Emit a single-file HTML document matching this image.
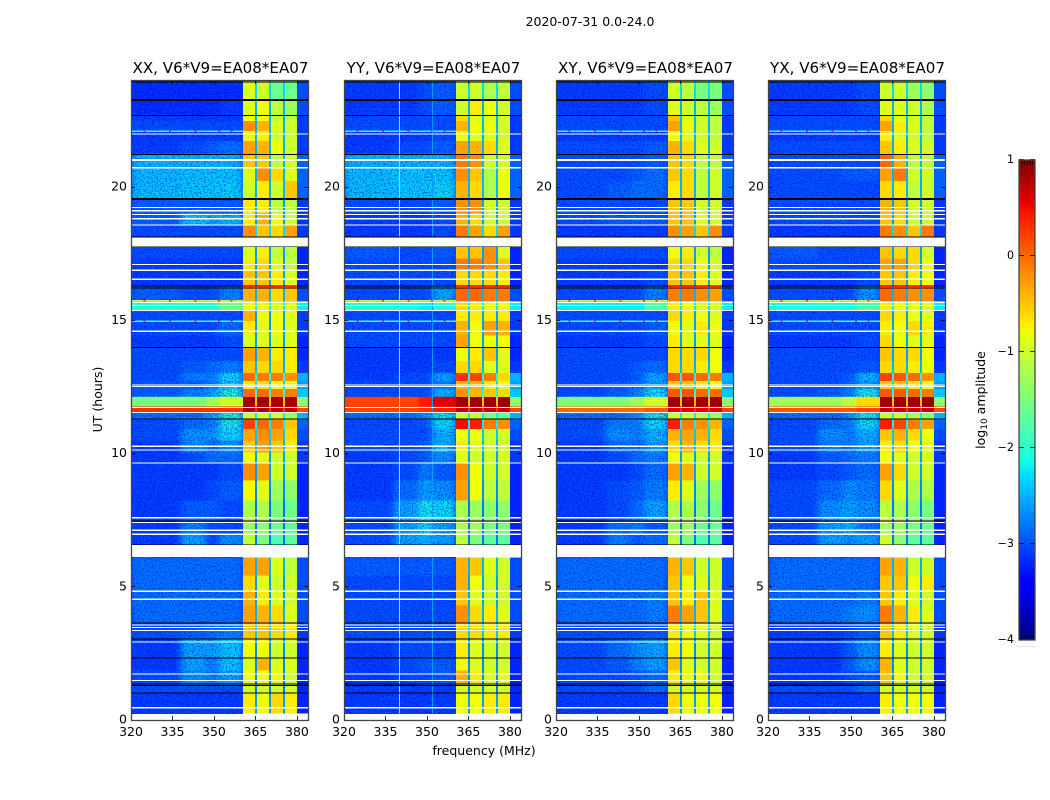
<!DOCTYPE html>
<html>
<head>
<meta charset="utf-8">
<title>2020-07-31 0.0-24.0</title>
<style>
html,body{margin:0;padding:0;background:#fff;}
svg{display:block;font-family:"DejaVu Sans","Liberation Sans",sans-serif;}
</style>
</head>
<body>
<svg id="chart" width="1050" height="800" viewBox="0 0 1050 800" xmlns="http://www.w3.org/2000/svg">
<defs id="defs">
<filter id="speckle-light" x="0" y="0" width="100%" height="100%" color-interpolation-filters="sRGB">
<feTurbulence type="fractalNoise" baseFrequency="0.65" numOctaves="1" seed="4"/>
<feColorMatrix type="matrix" values="0 0 0 0 0  0 0 0 0 0.5  0 0 0 0 1  3.4 0 0 0 -1.5"/>
</filter>
<filter id="speckle-dark" x="0" y="0" width="100%" height="100%" color-interpolation-filters="sRGB">
<feTurbulence type="fractalNoise" baseFrequency="0.65" numOctaves="1" seed="11"/>
<feColorMatrix type="matrix" values="0 0 0 0 0  0 0 0 0 0  0 0 0 0 0.85  3.4 0 0 0 -1.5"/>
</filter>
<filter id="smooth" color-interpolation-filters="sRGB">
<feGaussianBlur stdDeviation="3.5 0.8"/>
</filter>
</defs>
</svg>
<script>
// Axis tick labels
const freqTicks = [320, 335, 350, 365, 380];
const hourTicks = [0, 5, 10, 15, 20];
const colorbarTicks = [1, 0, -1, -2, -3, -4];
const panelTitles = ["XX, V6*V9=EA08*EA07", "YY, V6*V9=EA08*EA07", "XY, V6*V9=EA08*EA07", "YX, V6*V9=EA08*EA07"];

// Frequency edges (MHz) of the value columns: four background zones, then four receiver bands
const leftFreqEdges = [320, 338, 347, 352, 360.5];
const bandFreqEdges = [[360.5, 364.8], [365.5, 369.9], [370.6, 374.9], [375.7, 380]];
const notchFreqEdges = [[364.8, 365.5], [369.9, 370.6], [374.9, 375.7]];
const rightFreqEdges = [380, 384];

// UT hour of the top of each row; the last entry closes the last row
const rowTopHours = [24, 23.25, 22.68, 22.46, 22.08, 21.71, 21.22, 20.70, 20.21, 19.54, 19.01, 18.56, 18.07, 17.77, 17.29, 16.84, 16.27, 15.71, 15.34, 14.96, 14.40, 13.95, 13.46, 13.01, 12.71, 12.41, 12.11, 11.74, 11.51, 11.29, 10.91, 10.46, 10.01, 9.64, 8.96, 8.21, 7.46, 6.97, 6.52, 6.07, 5.40, 4.84, 4.27, 3.64, 3.04, 2.32, 1.84, 1.27, 1.01, 0.22];

// log10 amplitude per row, columns: 4 background zones then 4 bands; null = no data
const ampXX = [
[-3.2,-3.2,-3.2,-3.2,-0.9,-1.0,-1.6,-1.6],
[-3.2,-3.2,-3.2,-3.1,-0.9,-0.8,-1.1,-1.3],
[-3.1,-3.1,-3.1,-3.1,-0.8,-0.8,-1.1,-1.1],
[-3.0,-3.0,-3.0,-3.0,-0.2,-0.4,-0.9,-1.0],
[-3.1,-3.1,-3.1,-3.1,-0.8,-0.7,-1.0,-1.0],
[-3.1,-3.0,-2.9,-2.8,-0.3,-0.4,-0.8,-1.0],
[-2.4,-2.4,-2.4,-2.4,-0.5,-0.5,-1.1,-1.0],
[-2.35,-2.3,-2.3,-2.3,-0.9,-0.2,-0.6,-0.9],
[-2.35,-2.3,-2.3,-2.25,-1.0,-0.7,-1.0,-0.5],
[-2.9,-2.9,-2.9,-2.9,-0.7,-0.7,-1.1,-1.1],
[-2.9,-2.3,-2.5,-2.4,-0.7,-0.4,-0.8,-1.0],
[-3.0,-3.0,-3.0,-3.0,-0.2,-0.5,-0.6,-0.3],
null,
[-3.0,-3.0,-3.0,-3.0,-0.9,-0.7,-1.1,-1.1],
[-3.1,-3.1,-3.1,-3.1,-0.7,-0.6,-0.9,-1.1],
[-3.1,-3.1,-3.1,-3.1,-0.5,-0.5,-0.7,-0.9],
[-2.9,-3.0,-3.0,-2.7,-0.4,-0.4,-0.6,-0.5],
[-2.0,-2.0,-2.0,-1.6,-0.8,-0.8,-0.9,-0.9],
[-3.0,-3.0,-3.0,-3.0,-0.4,-0.8,-0.8,-0.9],
[-3.0,-3.0,-3.0,-2.8,-0.7,-0.9,-0.8,-0.9],
[-3.1,-3.1,-3.1,-3.0,-0.9,-0.9,-0.9,-0.9],
[-3.0,-3.0,-3.0,-3.0,-0.3,-0.4,-0.7,-0.7],
[-3.0,-2.9,-2.8,-2.7,-0.5,-0.6,-0.6,-0.7],
[-3.0,-2.7,-2.7,-2.2,0.0,-0.1,-0.1,-0.2],
[-2.9,-2.9,-2.7,-2.3,-0.7,-0.6,-0.8,-0.9],
[-2.9,-2.7,-2.5,-2.0,0.0,0.0,-0.1,-0.1],
[-1.5,-1.5,-1.3,-1.0,0.85,0.85,0.85,0.85],
[0.3,0.3,0.3,0.3,0.8,0.8,0.7,0.7],
[-2.8,-2.8,-2.5,-2.0,-1.0,-0.9,-0.9,-1.3],
[-3.0,-2.8,-2.7,-2.1,0.2,0.0,-0.1,-0.5],
[-3.0,-2.6,-2.6,-2.2,-0.3,-0.2,-0.3,-0.6],
[-3.1,-2.6,-2.8,-2.6,-0.5,-0.3,-0.5,-0.7],
[-3.1,-3.0,-2.8,-2.8,-0.8,-0.9,-1.0,-1.0],
[-3.1,-3.1,-3.1,-3.0,-0.2,-0.3,-1.0,-1.0],
[-3.1,-3.1,-3.0,-2.9,-0.8,-0.9,-1.3,-1.4],
[-3.1,-2.9,-2.9,-3.0,-1.2,-1.2,-1.5,-1.6],
[-3.1,-2.7,-3.0,-3.0,-1.3,-1.4,-1.6,-1.7],
[-3.1,-2.5,-3.0,-2.6,-1.1,-1.5,-1.8,-1.7],
null,
[-2.8,-2.8,-2.8,-2.8,-0.3,-0.3,-0.9,-1.1],
[-2.8,-2.8,-2.8,-2.8,-0.6,-0.9,-1.0,-1.0],
[-2.8,-2.8,-2.8,-2.8,-0.4,-0.7,-0.9,-1.0],
[-2.8,-2.8,-2.8,-2.8,-0.3,-0.4,-0.6,-0.9],
[-3.0,-2.9,-2.8,-2.7,-0.5,-0.5,-0.6,-0.7],
[-3.1,-2.5,-2.5,-2.3,-0.8,-0.8,-1.0,-1.0],
[-3.1,-2.5,-2.7,-2.3,-0.9,-0.4,-0.9,-0.9],
[-3.0,-2.6,-2.7,-2.5,-0.8,-0.8,-0.8,-1.0],
[-3.0,-3.0,-3.0,-3.0,-1.0,-1.0,-1.0,-1.0],
[-3.1,-3.1,-3.1,-3.1,-0.7,-0.8,-0.6,-0.7]
];
const ampYY = [
[-3.1,-3.1,-3.0,-2.9,-1.0,-1.0,-1.2,-1.1],
[-3.1,-3.1,-3.0,-2.9,-1.0,-0.7,-0.8,-1.0],
[-3.0,-3.0,-3.0,-3.0,-0.6,-0.9,-0.9,-1.0],
[-3.0,-3.0,-3.0,-3.0,-0.4,-0.8,-0.8,-1.0],
[-3.1,-3.1,-3.1,-3.0,-0.8,-0.9,-0.9,-1.0],
[-3.1,-3.0,-3.0,-2.9,-0.3,-0.4,-0.6,-0.9],
[-2.4,-2.4,-2.4,-2.4,-0.1,-0.2,-1.0,-1.0],
[-2.35,-2.3,-2.3,-2.3,-0.2,-0.5,-1.2,-0.8],
[-2.35,-2.3,-2.3,-2.2,-0.4,-0.6,-1.2,-0.8],
[-3.0,-3.0,-3.0,-2.9,-0.2,-0.2,-1.0,-1.0],
[-3.1,-3.1,-3.1,-3.0,-0.4,-0.6,-1.0,-1.0],
[-3.1,-3.1,-3.1,-3.0,-0.1,-0.3,-0.6,-0.3],
null,
[-2.9,-3.0,-3.0,-2.9,-0.5,-0.5,-0.2,-0.9],
[-3.0,-3.0,-3.0,-3.0,-0.1,-0.1,-0.2,-0.5],
[-3.0,-3.0,-3.0,-3.0,-0.6,-0.6,-0.6,-0.7],
[-3.0,-3.0,-3.0,-2.5,0.0,0.0,-0.1,-0.1],
[-2.0,-2.1,-2.2,-2.0,-0.6,-0.7,-0.8,-0.8],
[-3.0,-3.0,-3.0,-3.0,-0.7,-0.7,-0.7,-0.7],
[-3.0,-3.0,-3.0,-3.0,-0.4,-0.8,-0.3,-0.4],
[-3.0,-3.0,-3.0,-3.0,-0.3,-0.8,-0.8,-0.8],
[-3.1,-3.1,-3.1,-3.1,-0.8,-0.7,-0.5,-0.9],
[-3.1,-3.1,-3.1,-3.0,-0.6,-0.6,-0.9,-0.9],
[-3.1,-3.0,-3.0,-2.5,0.3,0.2,-0.1,-0.6],
[-3.0,-3.0,-3.0,-2.7,-0.4,-0.4,-0.7,-0.8],
[-3.0,-3.0,-3.0,-2.4,-0.2,-0.4,-0.5,-0.6],
[0.2,0.2,0.4,0.6,0.9,0.9,0.9,0.9],
[0.2,0.2,0.3,0.4,0.7,0.7,0.7,0.7],
[-2.8,-2.8,-2.6,-2.1,-1.0,-1.0,-1.5,-1.6],
[-3.0,-3.0,-2.9,-2.2,0.5,0.4,-0.1,-0.2],
[-3.0,-3.0,-3.0,-2.4,-0.8,-0.8,-1.0,-1.0],
[-3.0,-3.0,-2.9,-2.4,-0.7,-0.9,-1.0,-1.0],
[-3.1,-3.0,-2.9,-2.6,-0.9,-1.0,-1.0,-1.0],
[-3.1,-3.0,-2.7,-2.9,-0.2,-0.8,-1.0,-1.0],
[-3.1,-2.8,-2.5,-2.6,-0.3,-0.8,-1.1,-1.1],
[-3.0,-2.5,-2.1,-2.2,-1.2,-1.3,-1.4,-1.4],
[-3.0,-2.5,-2.2,-2.5,-1.2,-1.3,-1.5,-1.5],
[-3.0,-2.5,-2.4,-2.5,-1.1,-1.5,-1.7,-1.7],
null,
[-2.9,-2.9,-2.9,-2.9,-0.4,-0.5,-0.9,-1.0],
[-3.0,-3.0,-3.0,-3.0,-0.4,-0.8,-1.0,-1.0],
[-3.0,-3.0,-3.0,-3.0,-0.5,-0.9,-1.0,-1.0],
[-3.0,-3.0,-3.0,-3.0,-0.2,-0.6,-0.7,-0.9],
[-3.0,-3.0,-3.0,-3.0,-0.6,-0.6,-0.7,-0.7],
[-3.1,-3.0,-3.0,-3.0,-0.7,-0.9,-1.0,-1.0],
[-3.1,-3.0,-2.9,-2.9,-0.8,-0.9,-1.0,-1.0],
[-3.1,-3.0,-3.0,-2.9,-0.4,-0.7,-0.9,-0.9],
[-3.1,-3.1,-3.1,-3.1,-1.0,-1.0,-1.0,-1.0],
[-3.1,-3.1,-3.1,-3.1,-0.8,-0.8,-0.7,-0.7]
];
const ampXY = [
[-3.1,-3.1,-3.1,-3.0,-1.0,-1.1,-1.5,-1.5],
[-3.1,-3.1,-3.1,-3.0,-0.9,-1.0,-1.1,-1.3],
[-3.0,-3.0,-3.0,-3.0,-0.5,-0.9,-1.0,-1.1],
[-3.0,-3.0,-3.0,-3.0,-0.3,-0.8,-1.0,-1.1],
[-3.1,-3.1,-3.1,-3.1,-0.8,-0.9,-1.0,-1.1],
[-3.0,-3.0,-3.0,-2.9,-0.4,-0.6,-0.9,-1.0],
[-3.0,-3.0,-3.0,-2.9,-0.5,-0.6,-1.1,-1.1],
[-3.0,-3.0,-2.9,-2.8,-0.5,-0.6,-1.1,-1.0],
[-3.0,-2.9,-2.8,-2.8,-0.7,-0.6,-1.1,-1.0],
[-3.0,-3.0,-3.0,-3.0,-0.5,-0.5,-1.0,-1.0],
[-3.0,-2.9,-2.9,-2.9,-0.5,-0.5,-0.9,-1.0],
[-3.1,-3.1,-3.1,-3.1,-0.2,-0.3,-0.5,-0.2],
null,
[-3.0,-3.0,-3.0,-3.0,-0.8,-0.7,-1.0,-1.1],
[-3.1,-3.1,-3.1,-3.1,-0.6,-0.6,-0.8,-1.0],
[-3.1,-3.1,-3.1,-3.0,-0.5,-0.5,-0.7,-0.9],
[-3.0,-3.0,-3.0,-2.7,-0.1,-0.1,-0.2,-0.3],
[-2.2,-2.2,-2.2,-1.8,-0.7,-0.8,-0.9,-0.9],
[-3.0,-3.0,-3.0,-3.0,-0.6,-0.7,-0.8,-0.9],
[-3.0,-3.0,-3.0,-2.9,-0.8,-0.9,-0.7,-0.8],
[-3.1,-3.1,-3.1,-3.0,-0.7,-0.9,-0.9,-0.9],
[-3.0,-3.0,-3.0,-3.0,-0.6,-0.6,-0.6,-0.8],
[-3.0,-3.0,-2.9,-2.8,-0.6,-0.6,-0.7,-0.8],
[-3.0,-3.0,-2.9,-2.5,0.1,0.1,0.0,-0.1],
[-3.0,-2.9,-2.8,-2.5,-0.5,-0.5,-0.7,-0.8],
[-3.0,-2.9,-2.7,-2.2,0.1,0.1,0.0,0.0],
[-1.5,-1.5,-1.3,-1.0,0.9,0.9,0.9,0.9],
[0.0,0.0,0.0,0.1,0.6,0.6,0.6,0.6],
[-2.8,-2.8,-2.6,-2.1,-1.0,-1.0,-1.1,-1.3],
[-3.0,-2.7,-2.7,-2.2,0.4,-0.1,-0.2,-0.4],
[-3.0,-2.6,-2.7,-2.4,-0.4,-0.3,-0.4,-0.6],
[-3.1,-2.8,-2.8,-2.5,-0.6,-0.4,-0.6,-0.7],
[-3.1,-3.0,-2.8,-2.7,-0.8,-0.9,-1.0,-1.0],
[-3.1,-3.1,-3.0,-2.8,-0.3,-0.4,-1.0,-1.0],
[-3.1,-3.0,-2.9,-2.7,-0.7,-0.9,-1.3,-1.4],
[-3.1,-3.0,-2.8,-2.5,-1.2,-1.2,-1.4,-1.6],
[-3.1,-2.8,-2.7,-2.9,-1.3,-1.3,-1.6,-1.6],
[-3.1,-2.7,-2.9,-2.8,-1.1,-1.5,-1.8,-1.7],
null,
[-2.8,-2.8,-2.8,-2.8,-0.4,-0.5,-1.0,-1.0],
[-2.8,-2.8,-2.8,-2.8,-0.5,-0.8,-0.9,-1.0],
[-2.8,-2.8,-2.8,-2.7,-0.5,-0.7,-0.5,-0.9],
[-2.8,-2.8,-2.8,-2.7,-0.1,-0.3,-0.5,-0.9],
[-3.0,-3.0,-3.0,-2.9,-0.7,-0.8,-0.9,-1.0],
[-3.0,-2.8,-2.6,-2.5,-0.7,-0.8,-1.0,-1.0],
[-3.0,-2.9,-2.7,-2.5,-0.5,-0.9,-1.0,-1.0],
[-3.0,-3.0,-2.9,-2.8,-0.7,-0.8,-0.8,-1.0],
[-3.0,-3.0,-3.0,-2.8,-1.0,-1.0,-1.0,-1.0],
[-3.1,-3.1,-3.1,-3.1,-0.6,-0.8,-0.8,-0.8]
];
const ampYX = [
[-3.1,-3.1,-3.1,-3.0,-1.0,-1.0,-1.3,-1.4],
[-3.1,-3.1,-3.1,-3.0,-0.9,-0.9,-1.0,-1.2],
[-3.0,-3.0,-3.0,-3.0,-0.6,-0.9,-1.0,-1.1],
[-3.0,-3.0,-3.0,-3.0,-0.3,-0.7,-0.9,-1.1],
[-3.1,-3.1,-3.1,-3.1,-0.7,-0.9,-1.0,-1.1],
[-3.0,-3.0,-3.0,-3.0,-0.5,-0.7,-0.9,-1.0],
[-3.0,-3.0,-3.0,-3.0,0.0,-0.4,-1.1,-1.1],
[-3.0,-3.0,-2.9,-2.9,-0.3,-0.1,-1.0,-1.0],
[-3.0,-3.0,-3.0,-3.0,-0.6,-0.7,-1.1,-1.0],
[-3.0,-3.0,-3.0,-3.0,-0.4,-0.5,-1.0,-1.0],
[-3.0,-3.0,-3.0,-3.0,-0.5,-0.6,-1.0,-1.0],
[-3.1,-3.1,-3.1,-3.1,-0.1,-0.2,-0.5,-0.1],
null,
[-2.9,-3.0,-3.0,-3.0,-0.5,-0.6,-0.6,-1.0],
[-3.0,-3.0,-3.0,-3.0,-0.3,-0.3,-0.6,-0.8],
[-3.1,-3.1,-3.1,-3.0,-0.5,-0.5,-0.7,-0.8],
[-3.0,-3.0,-3.0,-2.6,0.0,-0.1,-0.2,-0.2],
[-2.1,-2.1,-2.1,-1.8,-0.7,-0.8,-0.8,-0.9],
[-3.0,-3.0,-3.0,-3.0,-0.6,-0.7,-0.8,-0.9],
[-3.0,-3.0,-3.0,-3.0,-0.7,-0.8,-0.6,-0.7],
[-3.1,-3.1,-3.1,-3.0,-0.6,-0.8,-0.9,-0.9],
[-3.0,-3.0,-3.0,-3.0,-0.5,-0.6,-0.6,-0.8],
[-3.0,-3.0,-3.0,-2.9,-0.6,-0.6,-0.7,-0.8],
[-3.0,-3.0,-2.9,-2.4,0.2,0.1,0.0,-0.2],
[-3.0,-3.0,-2.8,-2.5,-0.5,-0.5,-0.7,-0.8],
[-3.0,-2.9,-2.7,-2.1,0.1,0.1,0.0,-0.1],
[-1.3,-1.3,-1.1,-0.6,0.9,0.9,0.9,0.9],
[0.1,0.1,0.1,0.2,0.7,0.7,0.7,0.7],
[-2.8,-2.8,-2.6,-2.0,-1.0,-1.0,-1.2,-1.4],
[-3.0,-2.8,-2.7,-2.2,0.4,0.2,-0.1,-0.3],
[-3.0,-2.6,-2.7,-2.4,-0.5,-0.4,-0.6,-0.8],
[-3.0,-2.7,-2.7,-2.5,-0.7,-0.6,-0.8,-0.9],
[-3.1,-2.9,-2.8,-2.7,-0.8,-0.9,-1.0,-1.0],
[-3.1,-3.0,-2.9,-2.8,-0.3,-0.6,-1.0,-1.0],
[-3.0,-2.8,-2.6,-2.7,-0.6,-0.9,-1.2,-1.2],
[-3.0,-2.6,-2.5,-2.6,-1.1,-1.2,-1.4,-1.5],
[-3.0,-2.5,-2.4,-2.7,-1.2,-1.3,-1.5,-1.6],
[-3.0,-2.5,-2.6,-2.5,-1.0,-1.4,-1.7,-1.7],
null,
[-2.8,-2.8,-2.8,-2.8,-0.3,-0.4,-1.0,-1.0],
[-2.8,-2.8,-2.8,-2.8,-0.5,-0.5,-0.8,-0.7],
[-2.8,-2.8,-2.8,-2.7,-0.5,-0.7,-0.9,-1.0],
[-2.8,-2.8,-2.7,-2.6,-0.1,-0.4,-0.7,-0.9],
[-3.1,-3.1,-3.0,-2.9,-0.5,-0.7,-0.9,-1.0],
[-3.1,-3.1,-2.9,-2.6,-0.7,-0.9,-1.0,-1.0],
[-3.1,-3.1,-2.9,-2.6,-0.4,-0.9,-1.0,-1.0],
[-3.1,-3.1,-3.0,-2.9,-0.5,-0.8,-1.0,-1.0],
[-3.0,-3.0,-3.0,-2.8,-1.0,-1.0,-1.0,-1.0],
[-3.1,-3.1,-3.1,-3.1,-0.7,-0.8,-0.8,-0.8]
];
const panelAmps = [ampXX, ampYY, ampXY, ampYX];

// Shared per-row values for the narrow band notches and the region right of the last band
const notchAmp = [-2.3,-2.5,-2.5,-2.5,-2.5,-2.5,-2.5,-2.5,-2.5,-2.6,-2.6,-2.3,null,-2.6,-2.6,-2.6,-2.5,-2.2,-2.6,-2.6,-2.6,-2.6,-2.5,-2.0,-2.3,-2.0,-0.5,0.3,-2.2,-2.2,-2.4,-2.5,-2.6,-2.6,-2.7,-2.8,-2.8,-2.8,null,-2.5,-2.6,-2.6,-2.5,-2.4,-2.7,-2.7,-2.7,-2.8,-2.6];
const rightAmp = [-3.0,-3.0,-3.1,-3.1,-3.1,-3.1,-2.9,-2.9,-2.9,-3.1,-3.1,-3.1,null,-3.2,-3.2,-3.2,-3.0,-2.2,-3.1,-3.1,-3.2,-3.2,-3.1,-2.5,-2.6,-2.4,-1.4,0.2,-2.5,-2.9,-3.0,-3.1,-3.1,-3.2,-3.2,-3.2,-3.2,-3.2,null,-3.0,-3.0,-3.0,-3.0,-3.1,-3.2,-3.2,-3.2,-3.2,-3.2];

// Rows with no data, and flagged rows, in UT hours
const whiteLineHours = [21.97, 20.70, 19.21, 18.95, 18.79, 18.55, 17.07, 16.86, 16.52, 15.65, 15.53, 14.57, 12.55, 12.49, 11.71, 11.52, 10.25, 10.11, 9.63, 7.57, 7.39, 7.10, 6.95, 4.81, 4.51, 3.55, 3.45, 3.34, 2.91, 1.71, 0.44];
const whiteBlockHours = [[20.96, 21.03], [19.07, 19.12], [17.75, 18.09], [15.32, 15.37], [6.09, 6.54], [1.44, 1.49], [-0.03, 0.21]];
const blackLineHours = [23.93, 23.26, 23.22, 22.67, 21.21, 19.55, 19.51, 18.10, 17.75, 16.27, 16.20, 13.96, 11.27, 7.44, 6.55, 3.63, 3.03, 2.31, 1.34, 1.27, 1.00];
const rfiLineHours = [22.07, 15.71, 14.95];
const rfiLineAmps = [-2.0, -1.1, -1.9];

// Bright interference spots sitting on the flagged rows
const rfiSpotFreqs = [324.5, 333.7, 343, 351.5, 356];
const rfiSpotAmp = 0.3;

// Hot sliver inside the receiver bands between the paired black lines near 16.2 h
const hotBandSliverHours = [16.20, 16.27];
const hotBandSliverAmp = 0.4;

// Narrow vertical interference channels seen only in YY
const yyRfiFreqs = [339.9, 351.9];
const yyRfiAmps = [-1.6, -2.6];

// Figure layout
const plotLefts = [131, 344, 556, 768];
const plotWidth = 177, plotTop = 80, plotBottom = 720;
const backgroundAmp = -3.1;
const loudRowAmp = -2.3;
const svg = document.getElementById('chart');
const defs = document.getElementById('defs');
const NS = 'http://www.w3.org/2000/svg';

function make(tag, attrs, parent) {
  const el = document.createElementNS(NS, tag);
  for (const k in attrs) el.setAttribute(k, attrs[k]);
  (parent || svg).appendChild(el);
  return el;
}
function xScale(left, f) { return left + (f - 320) * plotWidth / 64; }
function yScale(h) { return 719.5 - h * 26.65; }
function lerp(a, b, t) { return a + (b - a) * t; }
function jet(v) {
  const t = Math.max(0, Math.min(1, (v + 4) / 5));
  const r = t < 0.35 ? 0 : t < 0.66 ? (t - 0.35) / 0.31 : t < 0.89 ? 1 : lerp(1, 0.5, (t - 0.89) / 0.11);
  const g = t < 0.125 ? 0 : t < 0.375 ? (t - 0.125) / 0.25 : t < 0.64 ? 1 : t < 0.91 ? 1 - (t - 0.64) / 0.27 : 0;
  const b = t < 0.11 ? lerp(0.5, 1, t / 0.11) : t < 0.34 ? 1 : t < 0.65 ? 1 - (t - 0.34) / 0.31 : 0;
  return 'rgb(' + Math.round(r * 255) + ',' + Math.round(g * 255) + ',' + Math.round(b * 255) + ')';
}
function cell(g, left, f0, f1, hLow, hHigh, v) {
  const x0 = xScale(left, f0), x1 = xScale(left, f1), yTop = yScale(hHigh), yBot = yScale(hLow);
  const r = make('rect', {x: x0.toFixed(2), y: yTop.toFixed(2), width: (x1 - x0).toFixed(2), height: (yBot - yTop).toFixed(2), fill: jet(v), 'shape-rendering': 'crispEdges'}, g);
  
  
}

panelAmps.forEach(function (amps, p) {
  const left = plotLefts[p];
  const g = make('g', {});
  
  

  // Quiet part of the band: clipped so the softened cells stay beside the receiver bands
  const quietWidth = xScale(left, 360.5) - left;
  const clip = make('clipPath', {id: 'quiet-clip-' + p}, defs);
  make('rect', {x: left, y: plotTop, width: quietWidth, height: plotBottom - plotTop}, clip);
  const quiet = make('g', {'clip-path': 'url(#quiet-clip-' + p + ')'}, g);
  
  
  const base = make('rect', {x: left, y: plotTop, width: quietWidth, height: plotBottom - plotTop, fill: jet(backgroundAmp)}, quiet);
  
  
  const soft = make('g', {filter: 'url(#smooth)'}, quiet);
  
  

  const rowCount = rowTopHours.length - 1;
  for (let i = 0; i < rowCount; i++) {
    const row = amps[i];
    if (!row) continue;
    const top = rowTopHours[i], bot = rowTopHours[i + 1];
    for (let c = 0; c < 4; c++) cell(soft, left, leftFreqEdges[c], leftFreqEdges[c + 1], bot, top, row[c]);
    for (let c = 0; c < 4; c++) cell(g, left, bandFreqEdges[c][0], bandFreqEdges[c][1], bot, top, row[4 + c]);
    for (let c = 0; c < 3; c++) cell(g, left, notchFreqEdges[c][0], notchFreqEdges[c][1], bot, top, notchAmp[i]);
    cell(g, left, rightFreqEdges[0], rightFreqEdges[1], bot, top, rightAmp[i]);
  }

  // Speckle texture over the quiet part of the band
  const spDark = make('rect', {x: left, y: plotTop, width: quietWidth, height: plotBottom - plotTop, filter: 'url(#speckle-dark)', opacity: 0.6}, quiet);
  
  
  const spLight = make('rect', {x: left, y: plotTop, width: quietWidth, height: plotBottom - plotTop, filter: 'url(#speckle-light)', opacity: 0.45}, quiet);
  
  

  // Loud rows read smooth in the source, so they sit above the speckle
  for (let i = 0; i < rowCount; i++) {
    const row = amps[i];
    if (!row || row[0] <= loudRowAmp) continue;
    for (let c = 0; c < 4; c++) cell(quiet, left, leftFreqEdges[c], leftFreqEdges[c + 1], rowTopHours[i + 1], rowTopHours[i], row[c]);
  }

  rfiLineHours.forEach(function (h, i) {
    cell(g, left, 320, 360.5, h - 0.03, h + 0.03, rfiLineAmps[i]);
    rfiSpotFreqs.forEach(function (f) {
      cell(g, left, f, f + 0.7, h - 0.03, h + 0.03, rfiSpotAmp);
    });
  });
  if (p === 1) {
    yyRfiFreqs.forEach(function (f, i) {
      cell(g, left, f, f + 0.36, 0.22, 24, yyRfiAmps[i]);
    });
  }

  blackLineHours.forEach(function (h) {
    const l = make('rect', {x: left, y: yScale(h) - 0.5, width: plotWidth, height: 1, fill: '#000', 'shape-rendering': 'crispEdges'}, g);
    
    
  });
  cell(g, left, 360.5, 380, hotBandSliverHours[0], hotBandSliverHours[1], hotBandSliverAmp);
  whiteLineHours.forEach(function (h) {
    const l = make('rect', {x: left, y: yScale(h) - 0.6, width: plotWidth, height: 1.2, fill: '#fff', 'shape-rendering': 'crispEdges'}, g);
    
    
  });
  whiteBlockHours.forEach(function (b) {
    const l = make('rect', {x: left, y: yScale(b[1]), width: plotWidth, height: yScale(b[0]) - yScale(b[1]), fill: '#fff', 'shape-rendering': 'crispEdges'}, g);
    
    
  });

  // Ticks on all four sides
  freqTicks.forEach(function (f) {
    const x = Math.round(xScale(left, f)) + 0.5;
    const t1 = make('line', {x1: x, x2: x, y1: plotBottom, y2: plotBottom - 4, stroke: '#000', 'stroke-width': 0.8}, g);
    
    
    const t2 = make('line', {x1: x, x2: x, y1: plotTop, y2: plotTop + 4, stroke: '#000', 'stroke-width': 0.8}, g);
    
    
    const lab = make('text', {x: xScale(left, f), y: 736, 'font-size': 12.5, 'text-anchor': 'middle', fill: '#000'}, g);
    
    
    lab.textContent = f;
  });
  hourTicks.forEach(function (h) {
    const y = Math.round(yScale(h)) + 0.5;
    const t1 = make('line', {x1: left, x2: left + 4, y1: y, y2: y, stroke: '#000', 'stroke-width': 0.8}, g);
    
    
    const t2 = make('line', {x1: left + plotWidth, x2: left + plotWidth - 4, y1: y, y2: y, stroke: '#000', 'stroke-width': 0.8}, g);
    
    
    const lab = make('text', {x: left - 4, y: yScale(h) + 4, 'font-size': 12.5, 'text-anchor': 'end', fill: '#000'}, g);
    
    
    lab.textContent = h;
  });

  const frame = make('rect', {x: left + 0.5, y: plotTop + 0.5, width: plotWidth, height: plotBottom - plotTop, fill: 'none', stroke: '#444', 'stroke-width': 1.3}, g);
  
  

  const title = make('text', {x: left + plotWidth / 2 + 1, y: 73, 'font-size': 15.1, 'text-anchor': 'middle', fill: '#000'}, g);
  
  
  title.textContent = panelTitles[p];
});

// Figure-level text
const sup = make('text', {x: 590, y: 26, 'font-size': 12.5, 'text-anchor': 'middle', fill: '#000'});


sup.textContent = '2020-07-31 0.0-24.0';

const xTitle = make('text', {x: 484, y: 755, 'font-size': 12.5, 'text-anchor': 'middle', fill: '#000'});


xTitle.textContent = 'frequency (MHz)';

const yTitle = make('text', {x: 0, y: 0, transform: 'translate(102 399.5) rotate(-90)', 'font-size': 12.5, 'text-anchor': 'middle', fill: '#000'});


yTitle.textContent = 'UT (hours)';

// Colorbar
const cbLeft = 1019, cbWidth = 16, cbTop = 160, cbBottom = 640;
function cbY(v) { return cbTop + (1 - v) * (cbBottom - cbTop) / 5; }
const cb = make('g', {});


for (let k = 0; k < 240; k++) {
  const v0 = 1 - k / 48, v1 = 1 - (k + 1) / 48;
  const seg = make('rect', {x: cbLeft, y: cbY(v0), width: cbWidth, height: cbY(v1) - cbY(v0) + 0.3, fill: jet((v0 + v1) / 2), 'shape-rendering': 'crispEdges'}, cb);
  
  
}
for (let k = 0; k < 5; k++) {
  const x = cbLeft + 3 + k * 2.6;
  const m1 = make('line', {x1: x, x2: x, y1: cbTop, y2: cbTop + 5, stroke: '#000', 'stroke-width': 0.6}, cb);
  
  
  const m2 = make('line', {x1: x, x2: x, y1: cbBottom, y2: cbBottom - 5, stroke: '#000', 'stroke-width': 0.6}, cb);
  
  
}
colorbarTicks.forEach(function (v) {
  const y = Math.round(cbY(v)) - 0.5;
  const t1 = make('line', {x1: cbLeft, x2: cbLeft + 5, y1: y, y2: y, stroke: '#000', 'stroke-width': 0.8}, cb);
  
  
  const t2 = make('line', {x1: cbLeft + cbWidth, x2: cbLeft + cbWidth - 5, y1: y, y2: y, stroke: '#000', 'stroke-width': 0.8}, cb);
  
  
  const lab = make('text', {x: cbLeft - 5, y: cbY(v) + 3, 'font-size': 11.1, 'text-anchor': 'end', fill: '#000'}, cb);
  
  
  lab.textContent = String(v).replace('-', '\u2212');
});
const cbFrame = make('rect', {x: cbLeft, y: cbTop, width: cbWidth, height: cbBottom - cbTop, fill: 'none', stroke: '#444', 'stroke-width': 1.3}, cb);



const dots = make('text', {x: cbLeft + cbWidth / 2 - 1, y: 647, 'font-size': 7, 'text-anchor': 'middle', fill: '#888', 'letter-spacing': '0.9'}, cb);


dots.textContent = '......';

const cbTitle = make('text', {x: 0, y: 0, transform: 'translate(985 400) rotate(-90)', 'font-size': 12.5, 'text-anchor': 'middle', fill: '#000'}, cb);


cbTitle.appendChild(document.createTextNode('log'));
const sub = make('tspan', {'font-size': 9, dy: 2}, cbTitle);


sub.textContent = '10';
const rest = make('tspan', {dy: -2}, cbTitle);


rest.textContent = ' amplitude';
</script>
</body>
</html>
